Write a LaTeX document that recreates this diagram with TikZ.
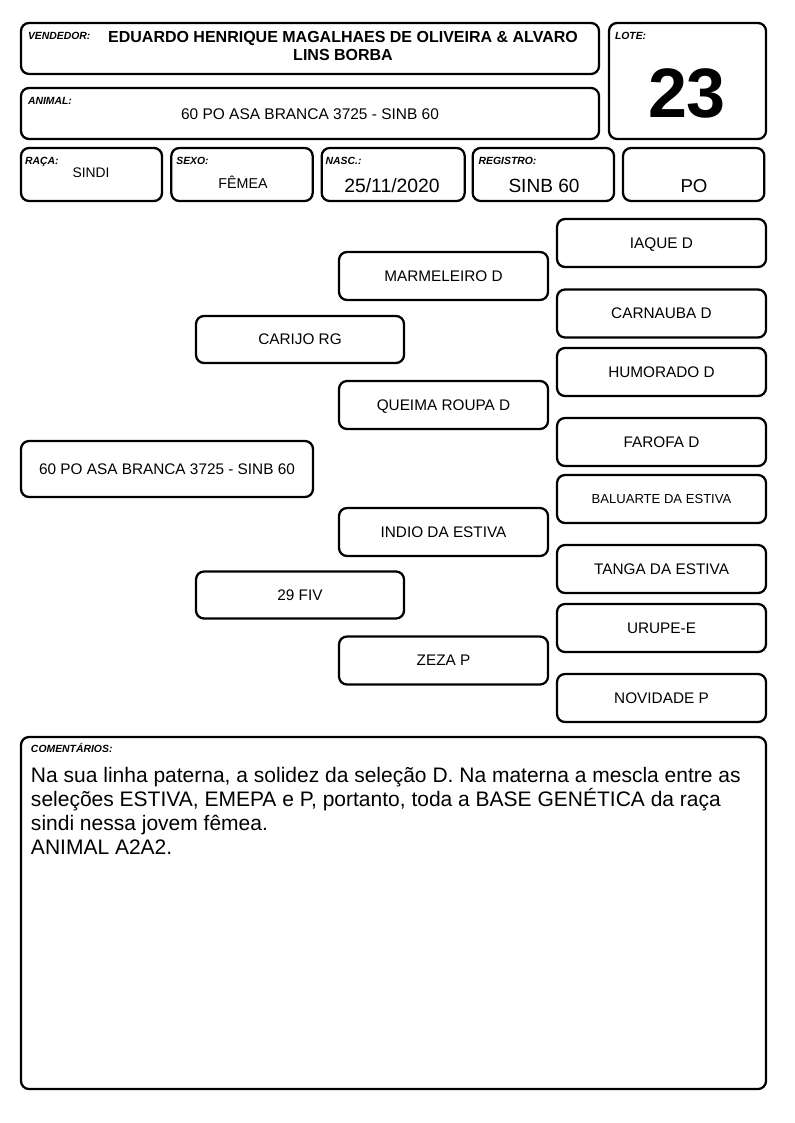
\documentclass[tikz,border=0pt]{standalone}
\usepackage{fontspec}
\setmainfont{Liberation Sans}
\usetikzlibrary{positioning}

\begin{document}
\begin{tikzpicture}[x=0.75pt, y=-0.75pt,
    every node/.style={inner sep=0pt, outer sep=0pt},
    frame/.style={draw, line width=1.7pt, rounded corners=6pt, rectangle},
    tag/.style={font=\fontsize{7.8}{9}\selectfont\bfseries\itshape, text height=5.6pt, text depth=1pt},
    field/.style={frame, minimum width=106pt, minimum height=39.75pt},
    pbox/.style={frame, minimum width=156.75pt, minimum height=36pt, text height=8.2pt, text depth=0pt, font=\fontsize{11.5}{13}\selectfont},
    gbox/.style={pbox, minimum width=156pt, minimum height=35.25pt}]

    \useasboundingbox (0,0) rectangle (794,1123);

    % header
    \node[frame, minimum width=433.5pt, minimum height=38.25pt] (vend) at (310,48.5) {};
    \node[frame, minimum width=117.75pt, minimum height=87pt] (lote) at (687.5,81) {};
    \node[frame, minimum width=433.5pt, minimum height=38.25pt] (anim) at (310,113.5) {};

    \node[field, minimum width=105.75pt] (raca) at (91.5,174.5) {};
    \node[field, right=7pt of raca] (sexo) {};
    \node[field, minimum width=107.25pt, right=6.75pt of sexo] (nasc) {};
    \node[field, right=6pt of nasc] (reg) {};
    \node[field, right=6.75pt of reg] (cat) {};

    \node[tag, below right=6.5pt and 5.25pt of vend.north west, anchor=north west] (vendtag) {VENDEDOR:};
    \node[tag, below right=6.5pt and 4.5pt of lote.north west, anchor=north west] (lotetag) {LOTE:};
    \node[tag, below right=6.5pt and 5.25pt of anim.north west, anchor=north west] (animtag) {ANIMAL:};
    \node[tag, below right=6.5pt and 3pt of raca.north west, anchor=north west] (racatag) {RAÇA:};
    \node[tag, below right=6.5pt and 3.75pt of sexo.north west, anchor=north west] (sexotag) {SEXO:};
    \node[tag, below right=6.5pt and 3pt of nasc.north west, anchor=north west] (nasctag) {NASC.:};
    \node[tag, below right=6.5pt and 4.5pt of reg.north west, anchor=north west] (regtag) {REGISTRO:};

    \node[anchor=north, align=center, font=\fontsize{12}{13.8}\selectfont\bfseries] (vendtxt) at (343,31)
        {EDUARDO HENRIQUE MAGALHAES DE OLIVEIRA \& ALVARO\\LINS BORBA};
    \node[anchor=base, font=\fontsize{52.5}{60}\selectfont\bfseries] (lotetxt) at (687,118) {23};
    \node[anchor=base, font=\fontsize{11.6}{13}\selectfont] (animtxt) at (310,119.5) {60 PO ASA BRANCA 3725 - SINB 60};
    \node[anchor=base, font=\fontsize{10.4}{12}\selectfont] (racatxt) at (91,178) {SINDI};
    \node[anchor=base, font=\fontsize{10.7}{12}\selectfont] (sexotxt) at (243,189) {FÊMEA};
    \node[anchor=base, font=\fontsize{14.5}{16}\selectfont] (nasctxt) at (392,193) {25/11/2020};
    \node[anchor=base, font=\fontsize{14.3}{16}\selectfont] (regtxt) at (544,193) {SINB 60};
    \node[anchor=base, font=\fontsize{14}{16}\selectfont] (cattxt) at (694,193) {PO};

    % pedigree
    \node[pbox, minimum width=219pt, minimum height=42pt] (animal) at (167,469) {60 PO ASA BRANCA 3725 - SINB 60};

    \node[gbox] (pai) at (300,339.5) {CARIJO RG};
    \node[gbox] (mae) at (300,595) {29 FIV};

    \node[pbox] (avo1) at (443.5,276) {MARMELEIRO D};
    \node[pbox] (avo2) at (443.5,405) {QUEIMA ROUPA D};
    \node[pbox] (avo3) at (443.5,532) {INDIO DA ESTIVA};
    \node[pbox] (avo4) at (443.5,660.5) {ZEZA P};

    \node[pbox] (bis1) at (661.5,243) {IAQUE D};
    \node[pbox] (bis2) at (661.5,313.5) {CARNAUBA D};
    \node[pbox] (bis3) at (661.5,372) {HUMORADO D};
    \node[pbox] (bis4) at (661.5,442) {FAROFA D};
    \node[pbox, text height=7.1pt, font=\fontsize{9.8}{11}\selectfont] (bis5) at (661.5,499) {BALUARTE DA ESTIVA};
    \node[pbox] (bis6) at (661.5,569) {TANGA DA ESTIVA};
    \node[pbox] (bis7) at (661.5,628) {URUPE-E};
    \node[pbox] (bis8) at (661.5,698) {NOVIDADE P};

    % comentarios
    \node[frame, minimum width=558.75pt, minimum height=264pt] (coment) at (393.5,913) {};
    \node[tag, below right=6pt and 7.5pt of coment.north west, anchor=north west] (comenttag) {COMENTÁRIOS:};
    \node[anchor=base west, align=left, font=\fontsize{15.75}{17.8}\selectfont] (comenttxt) at (31,854)
        {Na sua linha paterna, a solidez da seleção D. Na materna a mescla entre as\\
         seleções ESTIVA, EMEPA e P, portanto, toda a BASE GENÉTICA da raça\\
         sindi nessa jovem fêmea.\\
         ANIMAL A2A2.};
\end{tikzpicture}
\end{document}
